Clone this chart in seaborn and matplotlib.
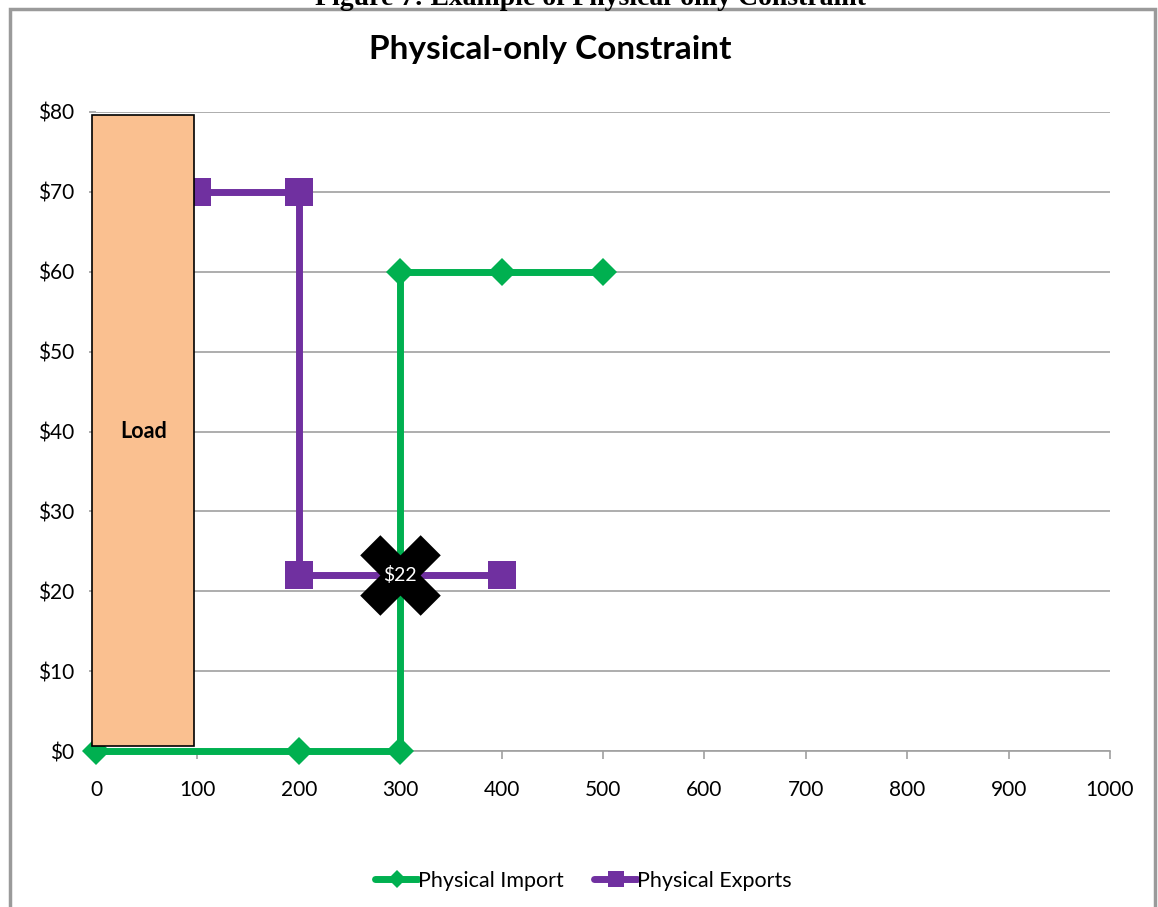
import matplotlib
matplotlib.use("Agg")
import matplotlib.pyplot as plt
import seaborn as sns
import pandas as pd
from matplotlib.patches import Rectangle
from matplotlib.lines import Line2D

# ---- data ----
import_x = [0, 200, 300, 300, 400, 500]
import_y = [0, 0, 0, 60, 60, 60]
export_x = [100, 200, 200, 300, 400]
export_y = [70, 70, 22, 22, 22]
clear_x = [300]
clear_y = [22]
clear_label = "$22"
load_x = [-4, 97]
load_y = [0.6, 79.6]
load_label = "Load"
x_ticks = [0, 100, 200, 300, 400, 500, 600, 700, 800, 900, 1000]
y_ticks = [0, 10, 20, 30, 40, 50, 60, 70, 80]
y_ticklabels = ["$0", "$10", "$20", "$30", "$40", "$50", "$60", "$70", "$80"]
title = "Physical-only Constraint"
caption = "Figure 7: Example of Physical-only Constraint"
series_names = ["Physical Import", "Physical Exports"]

GREEN = "#00B050"
PURPLE = "#7030A0"
LOAD = "#FAC090"
GRID = "#A0A0A0"

sns.set_theme(style="white")
plt.rcParams['font.family'] = ['Lato', 'DejaVu Sans']
plt.rcParams['text.color'] = 'black'
plt.rcParams['xtick.color'] = 'black'
plt.rcParams['ytick.color'] = 'black'

fig = plt.figure(figsize=(11.58, 9.07), dpi=100)
ax = fig.add_axes([96/1158, 1-751/907, (1110-96)/1158, (751-112)/907])

# figure border
fig.patches.append(Rectangle((10/1158, -0.05), (1155-10)/1158, 1-9/907+0.05,
                             transform=fig.transFigure, fill=False,
                             edgecolor="#9A9A9A", linewidth=2.5, zorder=0))
fig.text(0.51, 1-5/907, caption, ha="center", va="baseline", fontsize=20,
         fontweight="bold", family=["Liberation Serif"], color="black")

ax.set_xlim(0, 1000)
ax.set_ylim(0, 80)
ax.set_yticks(y_ticks)
ax.set_yticklabels(y_ticklabels, fontsize=15)
ax.set_xticks(x_ticks)
ax.set_xticklabels([str(t) for t in x_ticks], fontsize=15)
ax.yaxis.grid(True, color=GRID, linewidth=1.2)
ax.set_axisbelow(True)
for s in ["top", "right", "left"]:
    ax.spines[s].set_visible(False)
ax.spines["bottom"].set_color(GRID)
ax.spines["bottom"].set_linewidth(1.2)
ax.tick_params(axis="x", bottom=True, length=6, width=1.2, color=GRID, pad=15,
               labelcolor="black")
ax.tick_params(axis="y", left=True, length=5, width=1.2, color=GRID, pad=11,
               labelcolor="black")

df_imp = pd.DataFrame({"x": import_x, "y": import_y})
df_exp = pd.DataFrame({"x": export_x, "y": export_y})
sns.lineplot(data=df_imp, x="x", y="y", sort=False, estimator=None, ax=ax,
             color=GREEN, linewidth=5, marker="D", markersize=14,
             markeredgewidth=0, zorder=3, clip_on=False)
sns.lineplot(data=df_exp, x="x", y="y", sort=False, estimator=None, ax=ax,
             color=PURPLE, linewidth=5, marker="s", markersize=20,
             markeredgewidth=0, zorder=3, clip_on=False)

# load bar (on top of lines)
ax.bar(load_x[0], load_y[1]-load_y[0], width=load_x[1]-load_x[0],
       bottom=load_y[0], align="edge", color=LOAD, edgecolor="black",
       linewidth=1.2, zorder=4, clip_on=False)
ax.text((load_x[0]+load_x[1])/2, 40, load_label, ha="center", va="center",
        fontsize=15.5, fontweight="bold", zorder=5)

# clearing price marker
sns.scatterplot(x=clear_x, y=clear_y, ax=ax, marker="X", s=58**2,
                color="black", linewidth=0, zorder=6)
ax.text(clear_x[0], clear_y[0], clear_label.replace("$", r"\$"), ha="center",
        va="center", color="white", fontsize=14, zorder=7)

ax.set_xlabel("")
ax.set_ylabel("")

fig.text(0.475, 1-49/907, title, ha="center", va="center", fontsize=24,
         fontweight="bold", color="black")

handles = [Line2D([], [], color=GREEN, linewidth=5, marker="D", markersize=9,
                  markeredgewidth=0),
           Line2D([], [], color=PURPLE, linewidth=5, marker="s", markersize=12,
                  markeredgewidth=0)]
fig.legend(handles, series_names, loc="center", bbox_to_anchor=(0.504, 1-881/907),
           ncol=2, frameon=False, fontsize=15.5, handlelength=2.0,
           handletextpad=0.0, columnspacing=1.4)

fig.savefig("out.png", dpi=100)
